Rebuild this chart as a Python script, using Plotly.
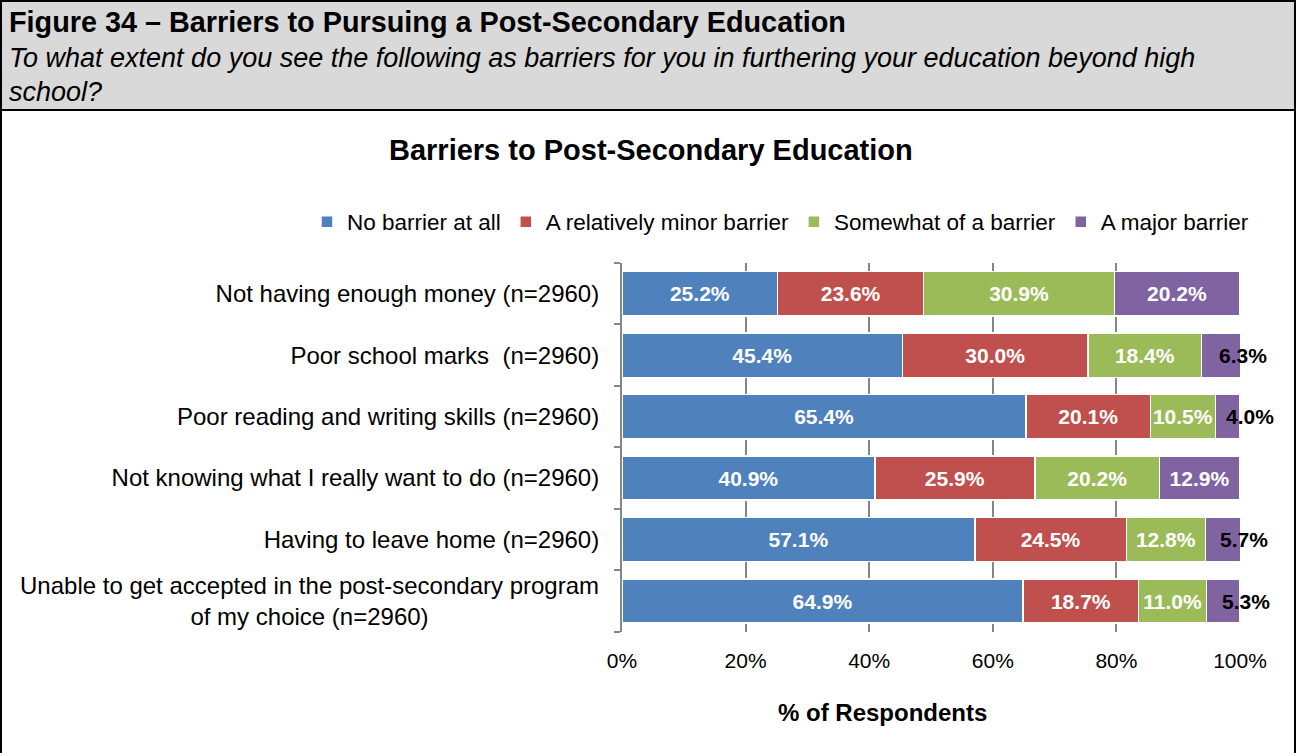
import plotly.graph_objects as go

categories = [
    "Not having enough money (n=2960)",
    "Poor school marks\u00a0\u00a0(n=2960)",
    "Poor reading and writing skills (n=2960)",
    "Not knowing what I really want to do (n=2960)",
    "Having to leave home (n=2960)",
    "Unable to get accepted in the post-secondary program<br>of my choice (n=2960)",
]
series_names = ["No barrier at all", "A relatively minor barrier", "Somewhat of a barrier", "A major barrier"]
no_barrier = [25.2, 45.4, 65.4, 40.9, 57.1, 64.9]
minor_barrier = [23.6, 30.0, 20.1, 25.9, 24.5, 18.7]
somewhat_barrier = [30.9, 18.4, 10.5, 20.2, 12.8, 11.0]
major_barrier = [20.2, 6.3, 4.0, 12.9, 5.7, 5.3]
colors = ["#4F81BD", "#C0504D", "#9BBB59", "#8064A2"]
x_ticks = [0, 20, 40, 60, 80, 100]

W, H = 1296, 753
L, R, T, B = 622, 56, 263, 121
PW, PH = W - L - R, H - T - B


def xp(px):
    return (px - L) / PW


def yp(py):
    return (H - B - py) / PH


FONT = "Liberation Sans, Arial, sans-serif"

fig = go.Figure()
all_series = [no_barrier, minor_barrier, somewhat_barrier, major_barrier]
small_threshold = 7
for name, vals, col in zip(series_names, all_series, colors):
    texts = []
    for v in vals:
        if name == "A major barrier" and v < small_threshold:
            texts.append("")
        else:
            texts.append(f"<b>{v:.1f}%</b>")
    fig.add_trace(go.Bar(
        y=categories, x=vals, name=name, orientation="h",
        marker=dict(color=col, line=dict(color="white", width=1.5)),
        text=texts, textposition="inside", insidetextanchor="middle",
        constraintext="none", textangle=0,
        textfont=dict(color="white", size=21, family=FONT),
        hoverinfo="skip",
    ))

annotations = []
# small major-barrier labels (black, overflowing the bar)
for cat, v in zip(categories, major_barrier):
    if v < small_threshold:
        annotations.append(dict(
            x=100 - v / 2, y=cat, xref="x", yref="y", text=f"<b>{v:.1f}%</b>",
            showarrow=False, xanchor="left", yanchor="middle", xshift=-4,
            font=dict(color="black", size=21, family=FONT),
        ))

# last (two-line) category label, centred lines
annotations.append(dict(
    x=xp(601), y=categories[-1], xref="paper", yref="y", xanchor="right", yanchor="middle",
    text=categories[-1], align="center", showarrow=False,
    font=dict(size=24, color="black", family=FONT),
))

# Header texts
annotations += [
    dict(x=xp(7), y=yp(22), xref="paper", yref="paper", xanchor="left", yanchor="middle",
         text="<b>Figure 34 \u2013 Barriers to Pursuing a Post-Secondary Education</b>",
         showarrow=False, font=dict(size=28.8, color="black", family=FONT)),
    dict(x=xp(7), y=yp(58), xref="paper", yref="paper", xanchor="left", yanchor="middle",
         text="<i>To what extent do you see the following as barriers for you in furthering your education beyond high</i>",
         showarrow=False, font=dict(size=27, color="black", family=FONT)),
    dict(x=xp(7), y=yp(92), xref="paper", yref="paper", xanchor="left", yanchor="middle",
         text="<i>school?</i>",
         showarrow=False, font=dict(size=27, color="black", family=FONT)),
    dict(x=xp(651), y=yp(150), xref="paper", yref="paper", xanchor="center", yanchor="middle",
         text="<b>Barriers to Post-Secondary Education</b>",
         showarrow=False, font=dict(size=29, color="black", family=FONT)),
    dict(x=xp(882), y=yp(712), xref="paper", yref="paper", xanchor="center", yanchor="middle",
         text="<b>% of Respondents</b>",
         showarrow=False, font=dict(size=24, color="black", family=FONT)),
]

shapes = [
    dict(type="rect", xref="paper", yref="paper", x0=xp(1), x1=xp(1295), y0=yp(1), y1=yp(110),
         fillcolor="#D9D9D9", line=dict(color="black", width=2), layer="below"),
    dict(type="rect", xref="paper", yref="paper", x0=xp(1), x1=xp(1295), y0=yp(1), y1=yp(760),
         fillcolor="rgba(0,0,0,0)", line=dict(color="black", width=2), layer="below"),
]

ticktext_y = categories[:-1] + [""]

fig.update_layout(
    width=W, height=H, autosize=False,
    margin=dict(l=L, r=R, t=T, b=B, pad=0),
    paper_bgcolor="white", plot_bgcolor="white",
    barmode="stack", bargap=0.28,
    font=dict(family=FONT, size=24, color="black"),
    showlegend=True,
    legend=dict(orientation="h", x=xp(307), xanchor="left", y=yp(222), yanchor="middle",
                font=dict(size=22.5, family=FONT), traceorder="normal",
                itemwidth=30, bgcolor="rgba(0,0,0,0)"),
    xaxis=dict(range=[0, 100], tickvals=x_ticks, ticktext=[f"{t}%" for t in x_ticks],
               showgrid=True, gridcolor="#868686", gridwidth=1.5, zeroline=False,
               showline=False, ticks="", ticklabelstandoff=14,
               tickfont=dict(size=21, family=FONT), fixedrange=True),
    yaxis=dict(autorange="reversed", showline=True, linecolor="#868686", linewidth=2,
               ticks="outside", tickson="boundaries", ticklen=6, tickcolor="#868686", tickwidth=2,
               showgrid=False, ticklabelstandoff=16,
               tickmode="array", tickvals=categories, ticktext=ticktext_y,
               tickfont=dict(size=24, family=FONT), fixedrange=True),
    annotations=annotations,
    shapes=shapes,
)

fig.write_html("out.html", include_plotlyjs=True, config={"displayModeBar": False},
               post_script="document.body.style.margin='0';document.body.style.overflow='hidden';")
